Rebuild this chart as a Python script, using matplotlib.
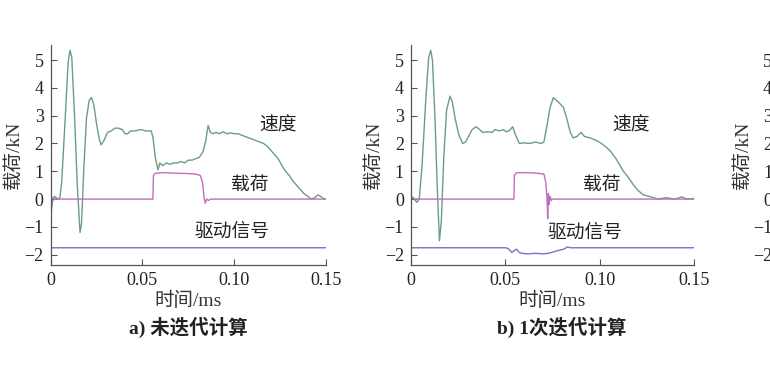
import matplotlib
matplotlib.use("Agg")
import matplotlib.pyplot as plt

plt.rcParams['font.family'] = ['Liberation Serif', 'Noto Sans CJK SC']
plt.rcParams['axes.unicode_minus'] = True

# (time ms, value kN)
speed_a = [(0, -0.6), (0.001, -0.1), (0.002, 0.1), (0.004, 0.0), (0.005, 0.05),
           (0.006, 0.6), (0.008, 3.0), (0.0095, 4.9), (0.0105, 5.35), (0.0115, 5.1),
           (0.013, 3.0), (0.0145, 0.5), (0.016, -1.2), (0.0168, -0.9), (0.018, 1.0),
           (0.0195, 2.9), (0.021, 3.55), (0.0222, 3.65), (0.0235, 3.4), (0.025, 2.7),
           (0.0265, 2.15), (0.0275, 1.95), (0.029, 2.1), (0.031, 2.4), (0.033, 2.45),
           (0.035, 2.55), (0.037, 2.55), (0.039, 2.5), (0.0405, 2.35), (0.042, 2.35),
           (0.0435, 2.45), (0.046, 2.45), (0.049, 2.5), (0.052, 2.45), (0.0548, 2.45),
           (0.0558, 2.2), (0.057, 1.5), (0.0585, 1.05), (0.0595, 1.3), (0.061, 1.2),
           (0.063, 1.3), (0.065, 1.25), (0.067, 1.3), (0.069, 1.3), (0.071, 1.35),
           (0.073, 1.3), (0.075, 1.4), (0.077, 1.4), (0.079, 1.45), (0.081, 1.5),
           (0.083, 1.7), (0.0845, 2.1), (0.0858, 2.65), (0.087, 2.4), (0.0885, 2.35),
           (0.090, 2.4), (0.092, 2.35), (0.094, 2.42), (0.096, 2.35), (0.098, 2.38),
           (0.100, 2.35), (0.102, 2.35), (0.104, 2.3), (0.106, 2.25), (0.108, 2.2),
           (0.110, 2.15), (0.112, 2.1), (0.114, 2.05), (0.116, 2.0), (0.118, 1.9),
           (0.120, 1.75), (0.122, 1.6), (0.124, 1.45), (0.126, 1.2), (0.128, 1.0),
           (0.130, 0.85), (0.132, 0.65), (0.134, 0.5), (0.136, 0.35), (0.138, 0.2),
           (0.140, 0.1), (0.142, 0.0), (0.144, 0.05), (0.1455, 0.15), (0.147, 0.1),
           (0.1485, 0.02), (0.150, 0.0)]
load_a = [(0, 0), (0.001, 0.05), (0.002, 0), (0.0557, 0), (0.0560, 0.85), (0.057, 0.93),
          (0.062, 0.95), (0.068, 0.93), (0.074, 0.92), (0.079, 0.9), (0.0815, 0.85),
          (0.0828, 0.6), (0.0835, 0.1), (0.0842, -0.15), (0.085, 0.0), (0.086, -0.05),
          (0.087, 0), (0.15, 0)]
drive_a = [(0, 0), (0.0003, -1.75), (0.15, -1.75)]

speed_b = [(0, 0.1), (0.0015, 0.05), (0.0032, -0.12), (0.0045, 0.0), (0.006, 1.2),
           (0.008, 3.6), (0.0095, 5.1), (0.0106, 5.35), (0.0115, 5.0), (0.0128, 3.0),
           (0.014, 0.5), (0.0152, -1.5), (0.0162, -0.8), (0.0175, 1.5), (0.019, 3.2),
           (0.0208, 3.7), (0.022, 3.5), (0.0235, 2.9), (0.0255, 2.3), (0.0275, 2.0),
           (0.029, 2.05), (0.031, 2.3), (0.0325, 2.5), (0.0345, 2.6), (0.0365, 2.5),
           (0.038, 2.4), (0.041, 2.42), (0.043, 2.4), (0.0447, 2.5), (0.047, 2.45),
           (0.049, 2.5), (0.0505, 2.42), (0.052, 2.45), (0.054, 2.6), (0.0555, 2.3),
           (0.0575, 2.0), (0.060, 2.02), (0.063, 2.0), (0.066, 2.05), (0.069, 2.0),
           (0.0705, 2.05), (0.072, 2.6), (0.0738, 3.3), (0.0755, 3.65), (0.078, 3.5),
           (0.0808, 3.3), (0.0826, 2.9), (0.0845, 2.4), (0.086, 2.2), (0.088, 2.25),
           (0.0902, 2.4), (0.092, 2.25), (0.095, 2.2), (0.0985, 2.1), (0.101, 2.0),
           (0.1038, 1.85), (0.106, 1.7), (0.1082, 1.5), (0.110, 1.3), (0.1126, 1.0),
           (0.115, 0.8), (0.118, 0.5), (0.1205, 0.3), (0.1232, 0.15), (0.126, 0.1),
           (0.1285, 0.05), (0.131, 0.0), (0.135, 0.05), (0.14, 0.0), (0.1435, 0.08),
           (0.146, 0.0), (0.15, 0.02)]
load_b = [(0, 0), (0.001, 0.05), (0.002, 0), (0.0546, 0), (0.0549, 0.85), (0.056, 0.95),
          (0.062, 0.95), (0.067, 0.93), (0.0705, 0.9), (0.0715, 0.6), (0.0722, 0.0),
          (0.0725, -0.7), (0.0729, 0.2), (0.0733, -0.2), (0.0738, 0.1), (0.0745, -0.05),
          (0.075, 0), (0.15, 0)]
drive_b = [(0, 0), (0.0003, -1.75), (0.0505, -1.75), (0.052, -1.8), (0.0535, -1.92),
           (0.0548, -1.85), (0.056, -1.8), (0.0575, -1.92), (0.059, -1.95), (0.062, -1.97),
           (0.066, -1.95), (0.070, -1.97), (0.073, -1.95), (0.0755, -1.9), (0.078, -1.85),
           (0.081, -1.8), (0.083, -1.72), (0.0845, -1.75), (0.15, -1.75)]

series_names = ['速度', '载荷', '驱动信号']
label_pos_a = [(0.124, 2.62), (0.1085, 0.49), (0.099, -1.2)]
label_pos_b = [(0.1167, 2.62), (0.101, 0.49), (0.0923, -1.22)]
captions = ['a) 未迭代计算', 'b) 1次迭代计算']
xticks = [0, 0.05, 0.10, 0.15]
xtick_labels = ['0', '0.05', '0.10', '0.15']
yticks = [-2, -1, 0, 1, 2, 3, 4, 5]

c_speed = '#6a9e82'
c_load = '#c46cbc'
c_drive = '#7474c4'


def style_axes(ax):
    ax.set_xlim(0, 0.15)
    ax.set_ylim(-2.37, 5.54)
    ax.set_xticks(xticks)
    ax.set_xticklabels(xtick_labels)
    ax.set_yticks(yticks)
    for s in ['top', 'right']:
        ax.spines[s].set_visible(False)
    for s in ['left', 'bottom']:
        ax.spines[s].set_color('#555555')
        ax.spines[s].set_linewidth(0.9)
    ax.tick_params(direction='in', length=4, width=0.8, color='#555555',
                   labelsize=13, pad=5, labelcolor='#222222')
    ax.set_ylabel('载荷/kN', fontsize=14, labelpad=1, color='#333333')


def draw_panel(ax, speed, load, drive, label_pos):
    for data, col in [(speed, c_speed), (load, c_load), (drive, c_drive)]:
        t = [p[0] for p in data]
        v = [p[1] for p in data]
        ax.plot(t, v, color=col, lw=1.0)
    style_axes(ax)
    for name, (x, y) in zip(series_names, label_pos):
        ax.text(x, y, name, fontsize=13.5, ha='center', va='center', color='#222222')
    ax.set_xlabel('时间/ms', fontsize=14, labelpad=2, color='#333333')


fig = plt.figure(figsize=(7.7, 3.85), dpi=100)
ax_a = fig.add_axes([0.0658, 0.3117, 0.3575, 0.5714])
ax_b = fig.add_axes([0.5334, 0.3117, 0.368, 0.5714])
# third panel of the original figure, cut off at the right edge
ax_c = fig.add_axes([1.0117, 0.3117, 0.36, 0.5714])

draw_panel(ax_a, speed_a, load_a, drive_a, label_pos_a)
draw_panel(ax_b, speed_b, load_b, drive_b, label_pos_b)
style_axes(ax_c)

fig.text(0.245, 0.1506, captions[0], fontsize=14, fontweight='bold',
         ha='center', va='center', color='#222222')
fig.text(0.7295, 0.1506, captions[1], fontsize=14, fontweight='bold',
         ha='center', va='center', color='#222222')

fig.savefig('out.png', dpi=100)
